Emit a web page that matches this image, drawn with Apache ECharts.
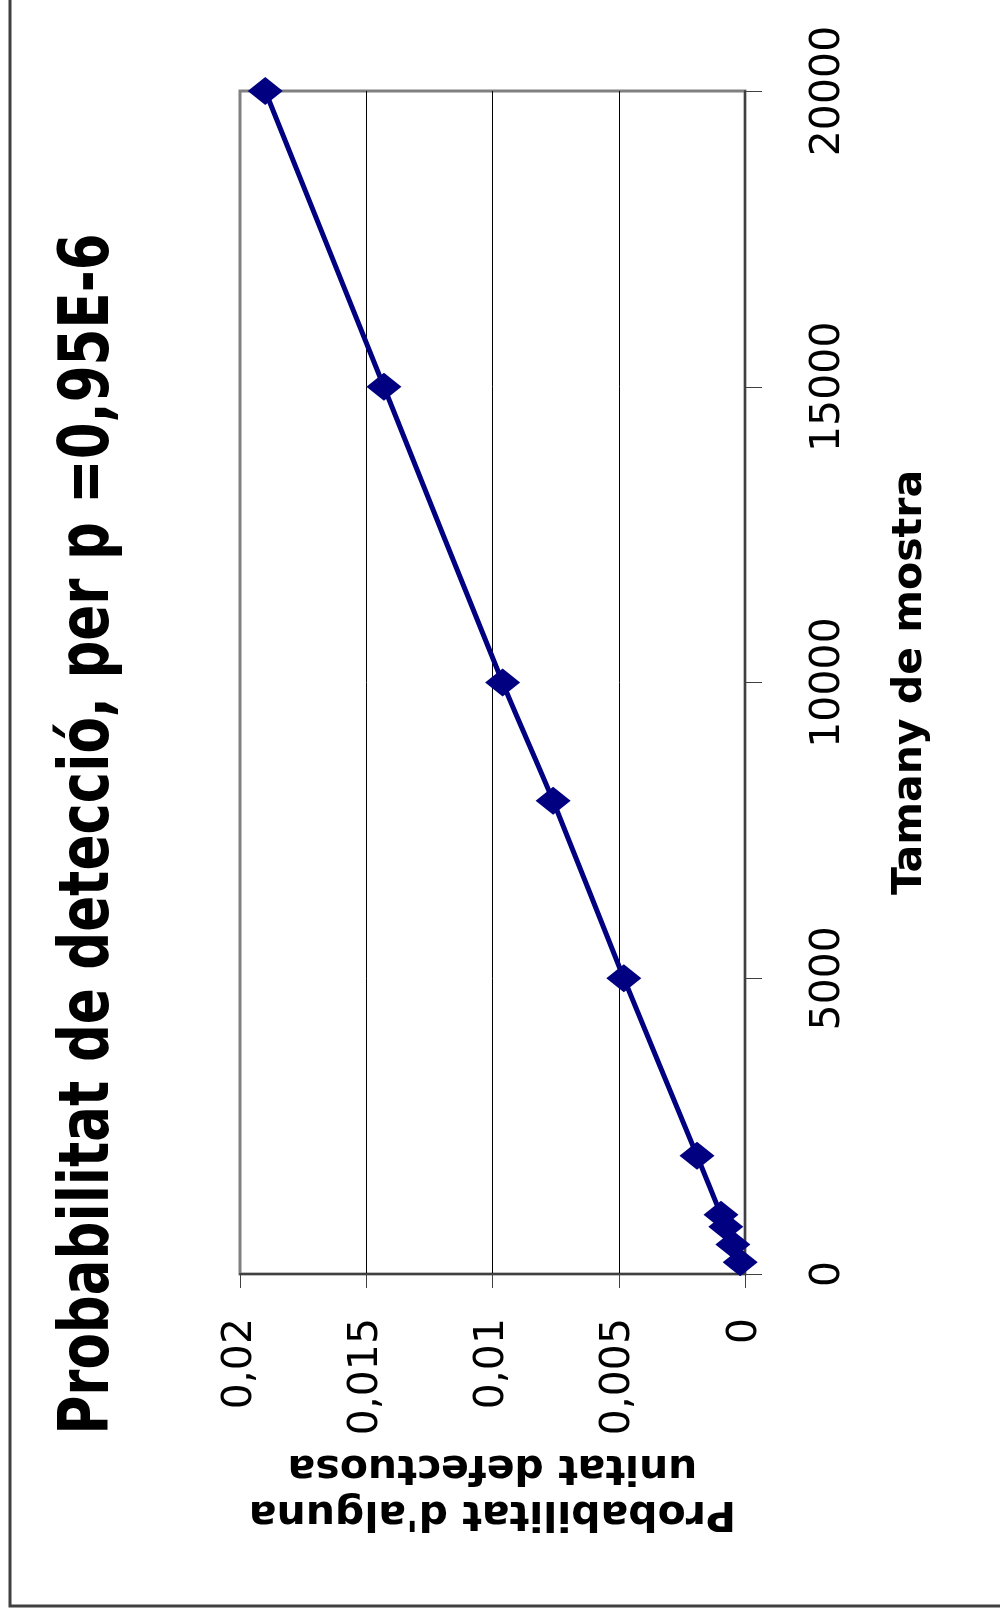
<!DOCTYPE html>
<html>
<head>
<meta charset="utf-8">
<title>Probabilitat de detecció</title>
<script src="https://cdn.jsdelivr.net/npm/echarts@6/dist/echarts.min.js"></script>
<style>
  html, body { margin: 0; padding: 0; background: #ffffff; }
  #chart { width: 1000px; height: 1617px; }
</style>
</head>
<body>
<div id="chart"></div>
<script>
// Sample sizes and the probability of finding at least one defective unit
const sampleSizes = [200, 500, 800, 1000, 2000, 5000, 8000, 10000, 15000, 20000];
const detectionProb = [0.00019, 0.00048, 0.00076, 0.00095, 0.0019, 0.0048, 0.0076, 0.0096, 0.0143, 0.0190];

// Axis ranges
const probTicks = { min: 0, max: 0.02, interval: 0.005 };
const sizeTicks = { min: 0, max: 20000, interval: 5000 };

const titleText = 'Probabilitat de detecció, per p =0,95E-6';
const sizeAxisName = 'Tamany de mostra';
const probAxisName = "Probabilitat d'alguna\nunitat defectuosa";

const points = sampleSizes.map((n, i) => [detectionProb[i], n]);

const chart = echarts.init(document.getElementById('chart'), null, { renderer: 'canvas' });

const navy = '#000080';
const axisColor = '#404040';

chart.setOption({
  animation: false,
  backgroundColor: '#ffffff',
  grid: {
    left: 240, right: 255, top: 91, bottom: 343,
    show: true,
    borderColor: '#808080',
    borderWidth: 3,
    backgroundColor: 'transparent'
  },
  graphic: [
    {
      type: 'text',
      x: 90, y: 834,
      rotation: Math.PI / 2,
      scaleY: 1.3,
      style: {
        text: titleText,
        fontFamily: 'DejaVu Sans',
        fontWeight: 'bold',
        fontSize: 53,
        fill: '#000000',
        align: 'center',
        verticalAlign: 'middle'
      },
      z: 10
    },
    {
      type: 'polyline',
      shape: { points: [[10, 0], [10, 1606], [1000, 1606]] },
      style: { stroke: axisColor, lineWidth: 3, fill: null },
      z: 10
    }
  ],
  xAxis: {
    type: 'value',
    position: 'bottom',
    inverse: true,
    min: probTicks.min,
    max: probTicks.max,
    interval: probTicks.interval,
    axisLine: { show: true, lineStyle: { color: axisColor, width: 2 } },
    axisTick: { show: true, length: 14, lineStyle: { color: axisColor, width: 1 } },
    splitLine: { show: true, showMinLine: false, showMaxLine: false, lineStyle: { color: '#000000', width: 1 } },
    axisLabel: {
      rotate: 90,
      margin: 44,
      fontSize: 41,
      fontFamily: 'DejaVu Sans',
      color: '#000000',
      formatter: v => String(+v.toFixed(4)).replace('.', ',')
    },
    name: probAxisName,
    nameLocation: 'middle',
    nameRotate: 180,
    nameGap: 168,
    nameTextStyle: {
      fontFamily: 'DejaVu Sans',
      fontWeight: 'bold',
      fontSize: 41,
      lineHeight: 46,
      color: '#000000'
    }
  },
  yAxis: {
    type: 'value',
    position: 'right',
    min: sizeTicks.min,
    max: sizeTicks.max,
    interval: sizeTicks.interval,
    axisLine: { show: true, lineStyle: { color: axisColor, width: 2 } },
    axisTick: { show: true, length: 17, lineStyle: { color: axisColor, width: 1 } },
    splitLine: { show: false },
    axisLabel: {
      rotate: 90,
      margin: 63,
      fontSize: 41,
      fontFamily: 'DejaVu Sans',
      color: '#000000',
      formatter: v => String(v)
    },
    name: sizeAxisName,
    nameLocation: 'middle',
    nameRotate: 90,
    nameGap: 145,
    nameTextStyle: {
      fontFamily: 'DejaVu Sans',
      fontWeight: 'bold',
      fontSize: 41,
      color: '#000000'
    }
  },
  series: [
    {
      type: 'line',
      data: points,
      smooth: 0.3,
      symbol: 'diamond',
      symbolSize: [35, 28],
      itemStyle: { color: navy },
      lineStyle: { color: navy, width: 5 },
      z: 5
    }
  ]
});
</script>
</body>
</html>
